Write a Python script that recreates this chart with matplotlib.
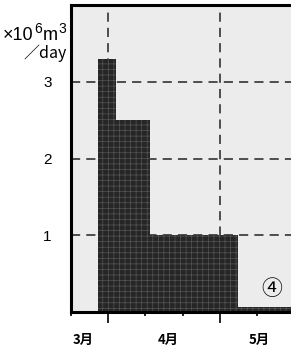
import matplotlib
matplotlib.use("Agg")
import matplotlib.pyplot as plt
import numpy as np

plt.rcParams['font.family'] = ['Noto Sans CJK JP', 'DejaVu Sans']
plt.rcParams['hatch.linewidth'] = 0.5

# data
period_edges = [0.73, 1.21, 2.12, 4.49, 6.5]
flow = [3.3, 2.5, 1.0, 0.07]
month_labels = ['3月', '4月', '5月']
month_pos = [0.32, 2.6, 5.05]
yticks = [1, 2, 3]
xticks = [0, 1, 2, 3, 4, 5]
grid_x = [1, 4]

W, H = 291, 350
fig = plt.figure(figsize=(W/100, H/100), dpi=100)
fig.patch.set_facecolor('white')
ax = fig.add_axes([71/W, 38/H, 242/W, 307/H])
ax.set_facecolor('#ececec')

widths = np.diff(period_edges)
ax.bar(period_edges[:-1], flow, width=widths, align='edge',
       color='#262626', edgecolor='#555555', linewidth=0, hatch='+++', zorder=3)

for y in yticks:
    ax.axhline(y, color='#222222', lw=1.1, dashes=(6, 4), zorder=1)
for x in grid_x:
    ax.axvline(x, color='#222222', lw=1.1, dashes=(6, 4), zorder=1)

ax.set_xlim(0, 6.5)
ax.set_ylim(0, 4.0)
ax.set_yticks(yticks)
ax.set_yticklabels([str(v) for v in yticks], fontsize=11, family='Liberation Sans')
ax.tick_params(axis='y', length=0, pad=14)
ax.set_xticks(xticks)
ax.set_xticklabels([])
ax.tick_params(axis='x', length=3, width=1.2, direction='out')
for t in ax.xaxis.get_major_ticks():
    if t.get_loc() in grid_x:
        t.tick1line.set_markersize(8)

for s in ['left', 'bottom', 'top']:
    ax.spines[s].set_linewidth(2.2)
    ax.spines[s].set_zorder(4)
ax.spines['right'].set_visible(False)

for lab, p in zip(month_labels, month_pos):
    ax.text(p, -0.37, lab, ha='center', va='center', fontsize=9.5, fontweight='bold',
            clip_on=False)

ax.text(5.4, 0.3, '④', ha='center', va='center', fontsize=15, family='Noto Sans CJK JP')

# unit label built from chained pieces
fam = 'Liberation Sans'
t1 = fig.text(3/W, 1 - 40/H, '×10', ha='left', va='baseline', fontsize=13, family=fam)
t2 = fig.text(0, 0, '', fontsize=1)
t2 = fig.add_artist(plt.Annotation('6', xy=(1, 0.45), xycoords=t1, ha='left', va='bottom',
                                   fontsize=10, family=fam, xytext=(0.5, 0),
                                   textcoords='offset points'))
t3 = fig.add_artist(plt.Annotation('m', xy=(1, 0), xycoords=(t2, t1), ha='left', va='bottom',
                                   fontsize=13, family=fam, xytext=(0.5, 0),
                                   textcoords='offset points'))
t4 = fig.add_artist(plt.Annotation('3', xy=(1, 0.45), xycoords=(t3, t1), ha='left', va='bottom',
                                   fontsize=10, family=fam, xytext=(0.3, 0),
                                   textcoords='offset points'))
fig.text(67/W, 1 - 53/H, '／day', ha='right', va='center', fontsize=11.5)

fig.savefig('out.png', dpi=100)
